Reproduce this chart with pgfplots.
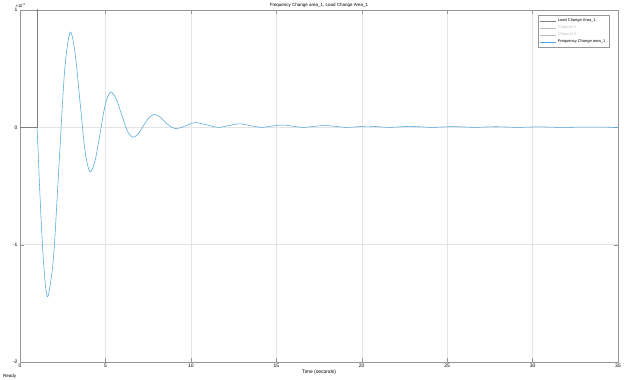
\documentclass[border=0pt]{standalone}
\usepackage{fontspec}
\setmainfont{Liberation Sans}
\usepackage{pgfplots}
\pgfplotsset{compat=1.18}
\definecolor{freq}{RGB}{80,168,222}
\definecolor{load}{RGB}{125,125,125}
\definecolor{gridc}{RGB}{228,228,228}
\definecolor{axc}{RGB}{150,150,150}
\definecolor{faded}{RGB}{190,190,190}
\begin{document}
\begin{tikzpicture}
\useasboundingbox (0,0) rectangle (624bp,380bp);
\begin{axis}[
  name=ax,
  at={(20bp,18bp)}, anchor=south west,
  scale only axis, width=598bp, height=352bp,
  xmin=0, xmax=35, ymin=-2, ymax=1,
  xtick={0,5,...,35}, ytick={-2,-1,0,1},
  grid=major, major grid style={gridc, line width=0.4pt},
  axis line style={axc}, tick style={axc}, tick align=inside, major tick length=4bp,
  font=\fontsize{5}{6}\selectfont,
  /pgf/number format/assume math mode=true,
  title={Frequency Change area\_1, Load Change Area\_1},
  title style={inner sep=1pt, yshift=-5pt, font=\fontsize{4.5}{5}\selectfont},
  xlabel={Time (seconds)},
  xlabel style={yshift=5bp, font=\fontsize{5}{6}\selectfont},
  xticklabel style={yshift=1bp},
  yticklabel style={xshift=1bp},
  legend style={at={(0.985,0.985)}, anchor=north east, draw=axc, line width=0.4pt,
    font=\fontsize{4}{5}\selectfont, row sep=-1.5pt, inner sep=1.5pt},
  legend cell align=left,
  legend image code/.code={\draw[#1] (0bp,0bp) -- (16bp,0bp);},
]
\addplot[load, line width=0.45pt] coordinates {(0,0) (1,0) (1,10) (35,10)};
\addlegendentry{Load Change Area\_1}
\addlegendimage{faded, line width=0.5pt}
\addlegendentry{\textcolor{faded}{Channel 2}}
\addlegendimage{faded, line width=0.5pt}
\addlegendentry{\textcolor{faded}{Channel 3}}
\addplot[freq, line width=0.55pt, smooth] coordinates {
(1,0) (1.16,-0.55) (1.32,-1.02) (1.48,-1.33) (1.64,-1.44)
(1.96,-1.11) (2.285,-0.315) (2.61,0.48) (2.93,0.81)
(3.22,0.636) (3.515,0.215) (3.81,-0.206) (4.1,-0.38)
(4.4,-0.28) (4.7,-0.04) (5.0,0.2) (5.3,0.30)
(5.625,0.244) (5.95,0.108) (6.275,-0.029) (6.6,-0.085)
(6.91,-0.056) (7.22,0.0125) (7.54,0.081) (7.85,0.11)
(8.16,0.092) (8.47,0.05) (8.79,0.008) (9.1,-0.01)
(9.41,-0.003) (9.72,0.015) (10.04,0.033) (10.35,0.04)
(10.97,0.02) (11.6,0.0) (12.22,0.015) (12.85,0.03)
(13.47,0.015) (14.1,0.0) (14.72,0.01) (15.35,0.02)
(15.97,0.01) (16.6,0.0) (17.85,0.015) (19.1,0.0)
(20.35,0.01) (21.6,0) (22.85,0.008) (24.1,0)
(25.35,0.006) (26.6,0) (27.85,0.005) (29.1,0)
(30.35,0.004) (31.6,0) (33.3,0.002) (35,0)
};
\addlegendentry{Frequency Change area\_1}
\end{axis}
\node[anchor=south west, inner sep=0.5pt, font=\fontsize{4}{5}\selectfont] at (ax.north west) [xshift=-5bp, yshift=2bp] {×10\textsuperscript{-3}};
\node[anchor=south west, inner sep=0pt, font=\fontsize{4.5}{5}\selectfont] at (3bp,1bp) {Ready};
\end{tikzpicture}
\end{document}
